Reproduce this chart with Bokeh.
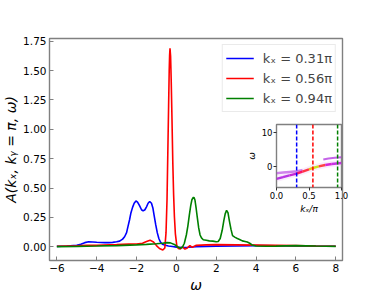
from bokeh.plotting import figure
from bokeh.models import (Span, Legend, LegendItem, FixedTicker, PrintfTickFormatter,
                          CustomJSTickFormatter, GridBox, Range1d)
from bokeh.embed import file_html
from bokeh.resources import INLINE

FONT = "DejaVu Sans"

# ---------------- main curves: A(kx, ky=pi, omega) ----------------
w_blue = [-6.0, -5.5, -5.0, -4.8, -4.6, -4.4, -4.2, -4.0, -3.8, -3.6,
          -3.4, -3.2, -3.0, -2.85, -2.7, -2.6, -2.5, -2.44, -2.35, -2.28,
          -2.2, -2.12, -2.03, -1.95, -1.85, -1.75, -1.67, -1.58, -1.5, -1.42,
          -1.34, -1.25, -1.18, -1.12, -1.04, -0.96, -0.88, -0.8, -0.7, -0.55,
          -0.4, -0.2, 0.0, 0.3, 0.6, 1.0, 1.5, 2.0, 3.0, 4.0,
          5.0, 6.0, 7.0, 8.0]
a_blue = [0.003, 0.006, 0.012, 0.022, 0.035, 0.043, 0.041, 0.038, 0.036, 0.035,
          0.035, 0.037, 0.042, 0.048, 0.065, 0.085, 0.12, 0.165, 0.23, 0.29,
          0.335, 0.37, 0.39, 0.38, 0.35, 0.315, 0.305, 0.315, 0.34, 0.37,
          0.385, 0.37, 0.33, 0.27, 0.19, 0.12, 0.07, 0.04, 0.022, 0.012,
          0.006, 0.002, -0.003, -0.006, -0.004, 0.0, 0.003, 0.005, 0.007, 0.01,
          0.009, 0.007, 0.005, 0.004]

w_red = [-6.0, -5.0, -4.5, -4.0, -3.0, -2.4, -2.0, -1.7, -1.5, -1.32,
         -1.15, -1.0, -0.85, -0.68, -0.58, -0.52, -0.47, -0.43, -0.39, -0.36,
         -0.34, -0.32, -0.29, -0.26, -0.22, -0.18, -0.14, -0.1, -0.05, 0.02,
         0.1, 0.2, 0.3, 0.43, 0.55, 0.68, 0.8, 0.9, 1.0, 1.5,
         2.0, 3.0, 4.0, 5.0, 6.0, 7.0, 8.0]
a_red = [0.004, 0.008, 0.012, 0.012, 0.018, 0.022, 0.024, 0.03, 0.045, 0.056,
         0.04, 0.01, -0.015, -0.028, -0.01, 0.12, 0.4, 0.8, 1.2, 1.5,
         1.63, 1.69, 1.62, 1.42, 1.08, 0.72, 0.45, 0.26, 0.11, 0.01,
         -0.015, -0.02, 0.0, -0.02, -0.01, 0.01, -0.005, 0.005, 0.012, 0.016,
         0.018, 0.016, 0.014, 0.012, 0.01, 0.006, 0.004]

w_green = [-6.0, -5.0, -4.0, -3.0, -2.0, -1.5, -1.0, -0.7, -0.47, -0.3,
           -0.1, 0.05, 0.19, 0.3, 0.4, 0.5, 0.58, 0.65, 0.72, 0.78,
           0.84, 0.88, 0.93, 0.99, 1.05, 1.12, 1.19, 1.26, 1.35, 1.5,
           1.65, 1.83, 2.0, 2.1, 2.2, 2.3, 2.38, 2.45, 2.52, 2.59,
           2.66, 2.74, 2.82, 2.95, 3.06, 3.2, 3.31, 3.45, 3.56, 3.68,
           3.8, 4.0, 4.5, 5.0, 6.0, 7.0, 8.0]
a_green = [0.001, 0.003, 0.006, 0.01, 0.016, 0.02, 0.026, 0.03, 0.035, 0.033,
           0.02, 0.0, -0.012, -0.005, 0.03, 0.1, 0.18, 0.27, 0.35, 0.4,
           0.418, 0.42, 0.4, 0.33, 0.25, 0.16, 0.1, 0.075, 0.06, 0.055,
           0.05, 0.048, 0.042, 0.045, 0.07, 0.14, 0.22, 0.28, 0.31, 0.29,
           0.22, 0.15, 0.095, 0.08, 0.07, 0.06, 0.05, 0.045, 0.04, 0.03,
           0.015, 0.006, 0.004, 0.005, 0.01, 0.006, 0.003]

labels = ["kₓ = 0.31π", "kₓ = 0.56π", "kₓ = 0.94π"]
kx_cuts = [0.31, 0.56, 0.94]
x_ticks = [-6, -4, -2, 0, 2, 4, 6, 8]
y_ticks = [0.0, 0.25, 0.5, 0.75, 1.0, 1.25, 1.5, 1.75]

# ---------------- inset: bands in (kx/pi, omega) ----------------
band_lo_k = [0.0, 0.1, 0.2, 0.31, 0.4, 0.5, 0.56, 0.65, 0.75, 0.85, 1.0]
band_lo_w = [-3.5, -3.0, -2.5, -2.0, -1.4, -0.75, -0.35, 0.1, 0.5, 0.8, 1.1]
band_ul_k = [0.0, 0.1, 0.2, 0.31, 0.4]
band_ul_w = [-1.9, -1.7, -1.5, -1.3, -1.0]
band_ur_k = [0.72, 0.8, 0.9, 1.0]
band_ur_w = [2.1, 2.4, 2.6, 2.75]
inset_x_ticks = [0.0, 0.5, 1.0]
inset_y_ticks = [0, 10]

GRAY = "#808080"
cols = ["#0000ff", "#ff0000", "#008000"]

minus_fmt = CustomJSTickFormatter(code="return (tick < 0 ? '\u2212' : '') + Math.abs(tick).toString();")

p = figure(frame_width=302, frame_height=227, output_backend="svg", toolbar_location=None,
           x_range=Range1d(-6.37, 8.34), y_range=Range1d(-0.117, 1.7725),
           min_border_left=40, min_border_right=31, min_border_top=38, min_border_bottom=30,
           align="start")
p.grid.visible = False
p.outline_line_color = GRAY
p.outline_line_width = 1.4
p.background_fill_color = "white"
p.border_fill_color = "white"

for ax in (p.xaxis[0], p.yaxis[0]):
    ax.axis_line_color = None
    ax.major_tick_in = 4
    ax.major_tick_out = 0
    ax.minor_tick_line_color = None
    ax.major_tick_line_color = GRAY
    ax.major_label_text_font = FONT
    ax.major_label_text_font_size = "10.5px"
    ax.major_label_text_color = "black"
    ax.axis_label_text_font = FONT
    ax.axis_label_text_font_style = "italic"
    ax.axis_label_text_color = "black"
    ax.major_label_standoff = 3

p.xaxis.ticker = FixedTicker(ticks=x_ticks)
p.xaxis.formatter = minus_fmt
p.yaxis.ticker = FixedTicker(ticks=y_ticks)
p.yaxis.formatter = PrintfTickFormatter(format="%.2f")
p.xaxis.axis_label = "ω"
p.xaxis.axis_label_text_font_size = "14px"
p.xaxis.axis_label_standoff = 2
p.yaxis.axis_label = "A(kₓ, kᵧ = π, ω)"
p.yaxis.axis_label_text_font_size = "14px"
p.yaxis.axis_label_standoff = 1

r1 = p.line(w_blue, a_blue, line_color=cols[0], line_width=1.6)
r2 = p.line(w_red, a_red, line_color=cols[1], line_width=1.6)
r3 = p.line(w_green, a_green, line_color=cols[2], line_width=1.6)

legend = Legend(items=[LegendItem(label=labels[0], renderers=[r1]),
                       LegendItem(label=labels[1], renderers=[r2]),
                       LegendItem(label=labels[2], renderers=[r3])],
                location="top_right")
legend.margin = 6
legend.padding = 3
legend.spacing = 0
legend.glyph_width = 28
legend.glyph_height = 20
legend.label_height = 20
legend.label_standoff = 9
legend.label_text_font = FONT
legend.label_text_font_size = "13px"
legend.border_line_color = "#d6d6d6"
legend.border_line_width = 1
legend.background_fill_alpha = 0.9
p.add_layout(legend)

# ---------------- inset ----------------
ins = figure(frame_width=70, frame_height=65, output_backend="svg", toolbar_location=None,
             x_range=Range1d(0, 1), y_range=Range1d(-6.0, 12.2),
             min_border_left=28, min_border_right=6, min_border_top=6, min_border_bottom=27,
             align="start")
ins.grid.visible = False
ins.outline_line_color = GRAY
ins.outline_line_width = 1.4
ins.border_fill_color = None
ins.background_fill_color = "white"
for ax in (ins.xaxis[0], ins.yaxis[0]):
    ax.axis_line_color = None
    ax.major_tick_in = 0
    ax.major_tick_out = 3
    ax.minor_tick_line_color = None
    ax.major_tick_line_color = "#333333"
    ax.major_label_text_font = FONT
    ax.major_label_text_font_size = "8.5px"
    ax.major_label_text_color = "black"
    ax.major_label_standoff = 1
    ax.axis_label_text_font = FONT
    ax.axis_label_text_font_style = "italic"
    ax.axis_label_text_font_size = "9px"
    ax.axis_label_text_color = "black"
    ax.axis_label_standoff = 2
ins.xaxis.ticker = FixedTicker(ticks=inset_x_ticks)
ins.xaxis.formatter = PrintfTickFormatter(format="%.1f")
ins.yaxis.ticker = FixedTicker(ticks=inset_y_ticks)
ins.xaxis.axis_label = "kₓ/π"
ins.yaxis.axis_label = "ω"

ins.line(band_lo_k, band_lo_w, line_color="#e8a0f0", line_width=6, line_alpha=0.2)
ins.line(band_ul_k, band_ul_w, line_color="#b030e0", line_width=2.5, line_alpha=0.6)
ins.line(band_ur_k, band_ur_w, line_color="#b030e0", line_width=2, line_alpha=0.75)
lo_colors = ["#b020e0", "#b020e0", "#c010d0", "#ff0050", "#ff2030", "#e8c000",
             "#c8e000", "#ff3030", "#d010d0", "#c020e0"]
ins.segment(band_lo_k[:-1], band_lo_w[:-1], band_lo_k[1:], band_lo_w[1:],
            line_color=lo_colors, line_width=2.5, line_alpha=0.9)

for k, c in zip(kx_cuts, cols):
    ins.add_layout(Span(location=k, dimension="height", line_color=c,
                        line_dash="4 2", line_width=1.5))

grid = GridBox(children=[(p, 0, 0, 3, 3), (ins, 1, 1, 1, 1)],
               rows=["118px", "98px", "79px"], cols=["243px", "104px", "26px"])

open("out.html", "w").write(file_html(grid, INLINE))
